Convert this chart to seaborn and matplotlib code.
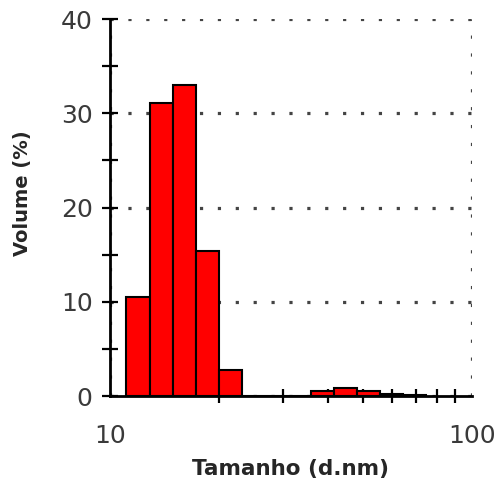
import numpy as np
import pandas as pd
import seaborn as sns
import matplotlib.pyplot as plt
from matplotlib.ticker import FixedLocator, NullFormatter

# size class edges (d.nm) and volume (%) per class
size_edges = [11.1, 12.9, 14.9, 17.3, 20.0, 23.1, 26.8, 31.0, 35.9, 41.5, 48.0, 55.6, 64.3, 74.4]
volume = [10.5, 31.1, 33.0, 15.4, 2.8, 0.0, 0.0, 0.0, 0.5, 0.85, 0.5, 0.2, 0.15]

edges = np.array(size_edges)
df = pd.DataFrame({"size": np.sqrt(edges[:-1] * edges[1:]), "volume": volume})

sns.set_style("white")
plt.rcParams['font.family'] = ['DejaVu Sans']

fig = plt.figure(figsize=(4.97, 4.84), dpi=100)
ax = fig.add_axes([0.2213, 0.1818, 0.7284, 0.7789])

sns.histplot(data=df, x="size", weights="volume", bins=list(np.log10(edges)), log_scale=True,
             color="#ff0000", alpha=1, edgecolor="black", linewidth=1.5, ax=ax)

ax.set_xlim(10, 100)
ax.set_ylim(0, 40)

ax.xaxis.set_major_locator(FixedLocator([10, 100]))
ax.xaxis.set_minor_locator(FixedLocator([20, 30, 40, 50, 60, 70, 80, 90]))
ax.xaxis.set_minor_formatter(NullFormatter())
ax.set_xticklabels(["10", "100"])
ax.yaxis.set_major_locator(FixedLocator([0, 10, 20, 30, 40]))
ax.yaxis.set_minor_locator(FixedLocator([5, 15, 25, 35]))

# dotted grid, ~18 px between dots
ax.grid(True, which='major', color="#444444", linestyle=(0, (1, 4.6)), linewidth=2.3)
ax.set_axisbelow(True)

for s in ['top', 'right']:
    ax.spines[s].set_visible(False)
for s in ['left', 'bottom']:
    ax.spines[s].set_linewidth(2)
    ax.spines[s].set_color("black")

ax.tick_params(axis='both', which='both', direction='inout', width=1.6, color="black",
               left=True, bottom=True)
ax.tick_params(axis='y', which='major', length=11, labelsize=18, pad=7, labelcolor="#3a3a3a")
ax.tick_params(axis='y', which='minor', length=11)
ax.tick_params(axis='x', which='major', length=0, labelsize=18, pad=20, labelcolor="#3a3a3a")
ax.tick_params(axis='x', which='minor', length=9.5)

ax.set_xlabel("Tamanho (d.nm)", fontsize=15.5, fontweight='bold', labelpad=8)
ax.set_ylabel("Volume (%)", fontsize=14, fontweight='bold')
ax.yaxis.set_label_coords(-0.215, 0.538)

fig.savefig("out.png", dpi=100)
